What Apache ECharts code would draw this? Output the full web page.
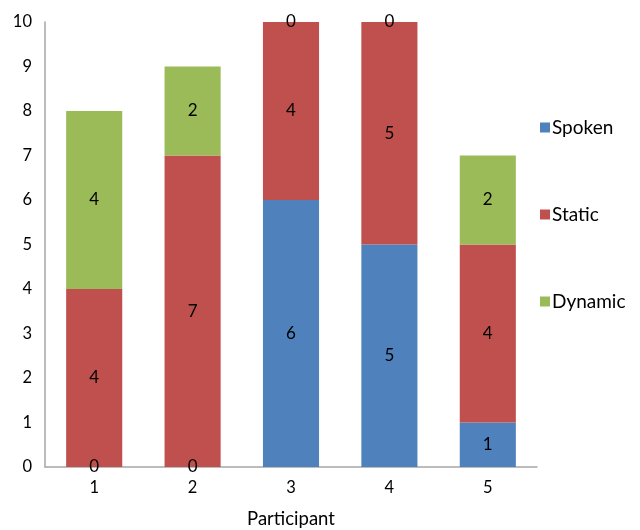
<!DOCTYPE html>
<html><head><meta charset="utf-8">
<script src="https://cdn.jsdelivr.net/npm/echarts@6/dist/echarts.min.js"></script>
<style>html,body{margin:0;padding:0;background:#fff}#c{width:640px;height:530px}</style>
</head><body><div id="c"></div>
<script>
const categories = ['1','2','3','4','5'];
const spoken = [0,0,6,5,1];
const staticV = [4,7,4,5,4];
const dynamic = [4,2,0,0,2];
const yTicks = {min:0, max:10, interval:1};
const FONT = 'Lato';
const chart = echarts.init(document.getElementById('c'));
const lbl = {show:true, position:'inside', color:'#000', fontSize:17, fontFamily:FONT};
function ser(name, data, color){
  return {name, type:'bar', stack:'a', data, barWidth:'57%', itemStyle:{color}, label:lbl};
}
chart.setOption({
  animation:false,
  grid:{left:45, right:103, top:22, bottom:63, containLabel:false, outerBoundsMode:'none'},
  legend:{orient:'vertical', left:535, top:113, itemGap:68, itemWidth:10, itemHeight:10, icon:'rect',
    textStyle:{fontSize:19, fontFamily:FONT, color:'#000', padding:[0,0,0,-3]},
    data:['Spoken','Static','Dynamic']},
  xAxis:{type:'category', data:categories, name:'Participant', nameLocation:'middle', nameGap:43,
    nameTextStyle:{fontSize:18.5, fontFamily:FONT, color:'#000'},
    axisLine:{lineStyle:{color:'#a6a6a6', width:1.5}}, axisTick:{show:false},
    axisLabel:{fontSize:16.5, fontFamily:FONT, color:'#000', margin:12}},
  yAxis:{type:'value', min:yTicks.min, max:yTicks.max, interval:yTicks.interval,
    axisLine:{show:true, lineStyle:{color:'#a6a6a6', width:1.5}}, axisTick:{show:false}, splitLine:{show:false},
    axisLabel:{fontSize:16.5, fontFamily:FONT, color:'#000', margin:13}},
  series:[ser('Spoken', spoken, '#4f81bd'), ser('Static', staticV, '#c0504d'), ser('Dynamic', dynamic, '#9bbb59')]
});
</script></body></html>
